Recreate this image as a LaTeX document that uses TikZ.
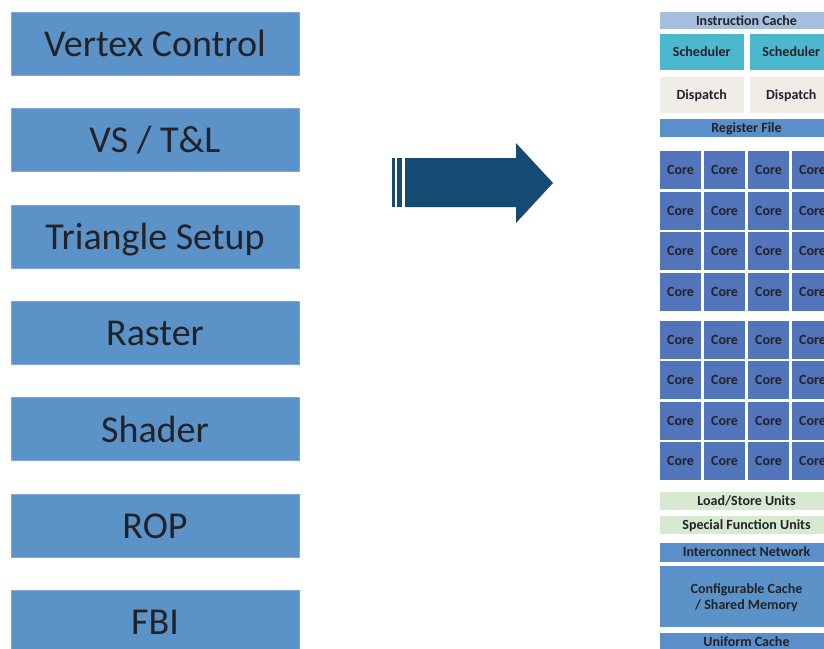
\documentclass[tikz,border=0pt]{standalone}
\usepackage{fontspec}
\setmainfont{Carlito}
\usetikzlibrary{positioning}
\definecolor{stage}{HTML}{5B93C8}
\definecolor{ink}{HTML}{222228}
\definecolor{arrowBlue}{HTML}{154A72}
\definecolor{icache}{HTML}{A6BFDF}
\definecolor{sched}{HTML}{4CB8D0}
\definecolor{disp}{HTML}{F0EDE7}
\definecolor{regf}{HTML}{5B8FCA}
\definecolor{core}{HTML}{5174BB}
\definecolor{unit}{HTML}{D7E9D1}
\tikzset{
  stageBox/.style = {rectangle, fill=stage, draw=stage!80!white, line width=0.6pt,
    minimum width=288, minimum height=63, text=ink, inner sep=0pt,
    font=\fontsize{38}{44}\selectfont, text height=26, text depth=0},
  smBox/.style = {rectangle, inner sep=0pt, text=ink, align=center,
    font=\bfseries\fontsize{14}{16}\selectfont, text height=9, text depth=0},
  wideBar/.style = {smBox, minimum width=173},
  halfBox/.style = {smBox, minimum width=83.5, minimum height=36},
  coreBox/.style = {smBox, fill=core, minimum width=41, minimum height=38},
}

\begin{document}
\begin{tikzpicture}[x=1pt, y=1pt]
\clip (0,0) rectangle (824,-648);

% fixed pipeline
\node[stageBox] (vc) at (155,-43.5) {Vertex Control};
\node[stageBox, below=32.8pt of vc] (vs) {VS / T\&L};
\node[stageBox, below=32.8pt of vs] (tri) {Triangle Setup};
\node[stageBox, below=32.8pt of tri] (ras) {Raster};
\node[stageBox, below=32.8pt of ras] (sh) {Shader};
\node[stageBox, below=32.8pt of sh] (rop) {ROP};
\node[stageBox, below=32.8pt of rop] (fbi) {FBI};

% big arrow
\fill[arrowBlue] (392,-158) rectangle (395,-207);
\fill[arrowBlue] (397,-158) rectangle (402,-207);
\fill[arrowBlue] (405,-158) -- (516,-158) -- (516,-143) -- (553,-183)
  -- (516,-223) -- (516,-207) -- (405,-207) -- cycle;

% unified streaming multiprocessor
\node[wideBar, fill=icache, minimum height=17] (ic) at (746.5,-20.5) {Instruction Cache};
\node[halfBox, fill=sched] (s1) at (701.75,-52) {Scheduler};
\node[halfBox, fill=sched] (s2) at (791.25,-52) {Scheduler};
\node[halfBox, fill=disp] (d1) at (701.75,-95) {Dispatch};
\node[halfBox, fill=disp] (d2) at (791.25,-95) {Dispatch};
\node[wideBar, fill=regf, minimum height=18] (rf) at (746.5,-128) {Register File};

\foreach \c in {0,...,3} {
  \foreach \r/\y in {0/170,1/210.5,2/251,3/291.5,4/339.5,5/380,6/420.5,7/461} {
    \node[coreBox] (core\r\c) at (680.5+44*\c,-\y) {Core};
  }
}

\node[wideBar, fill=unit, minimum height=18] (ls) at (746.5,-501) {Load/Store Units};
\node[wideBar, fill=unit, minimum height=18, below=6pt of ls] (sfu) {Special Function Units};
\node[wideBar, fill=regf, minimum height=19, below=8pt of sfu] (net) {Interconnect Network};
\node[wideBar, fill=stage, minimum height=61, text height=25, below=4pt of net] (shm) {Configurable Cache\\/ Shared Memory};
\node[wideBar, fill=regf, minimum height=18, below=5pt of shm] (uc) {Uniform Cache};
\end{tikzpicture}
\end{document}
